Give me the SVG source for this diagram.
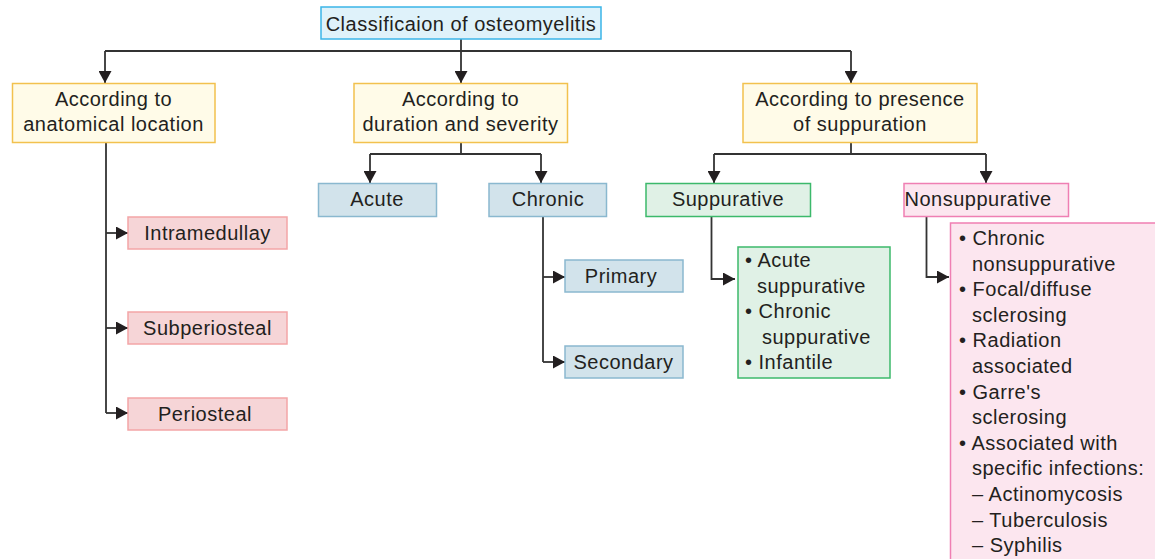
<svg xmlns="http://www.w3.org/2000/svg" width="1155" height="559" viewBox="0 0 1155 559">
<defs>
<marker id="ah" markerUnits="userSpaceOnUse" markerWidth="13" markerHeight="13" refX="12" refY="6.5" orient="auto">
<path d="M0,0 L12,6.5 L0,13 Z" fill="#231f20"/>
</marker>
<style>
text{font-family:"Liberation Sans",Arial,sans-serif;font-size:20px;fill:#231f20;letter-spacing:0.5px}
.c{text-anchor:middle}
.con{fill:none;stroke:#333;stroke-width:1.8}
.arr{fill:none;stroke:#333;stroke-width:1.8;marker-end:url(#ah)}
.title{fill:#dff2fa;stroke:#3bb5e8;stroke-width:1.5}
.yel{fill:#fffbe8;stroke:#f2c14e;stroke-width:1.5}
.blu{fill:#d2e3eb;stroke:#8ab8cf;stroke-width:1.5}
.red{fill:#f6d5d7;stroke:#f3a5a7;stroke-width:1.5}
.grn{fill:#e0f1e6;stroke:#3cb96b;stroke-width:1.5}
.pnk{fill:#fce6ef;stroke:#ef7fb3;stroke-width:1.5}
</style>
</defs>
<rect width="1155" height="559" fill="#fff"/>
<g id="connectors">
<path class="con" d="M461,39 V51 M105,51 H851"/>
<path class="arr" d="M105,51 V83"/>
<path class="arr" d="M461,51 V83"/>
<path class="arr" d="M851,51 V83"/>
<path class="con" d="M106,142 V413"/>
<path class="arr" d="M106,233 H128"/>
<path class="arr" d="M106,328 H128"/>
<path class="arr" d="M106,413 H128"/>
<path class="con" d="M461,142 V154 M370,154 H541"/>
<path class="arr" d="M370,154 V183"/>
<path class="arr" d="M541,154 V183"/>
<path class="con" d="M543,216 V362"/>
<path class="arr" d="M543,277 H565"/>
<path class="arr" d="M543,362 H565"/>
<path class="con" d="M851,142 V154 M714,154 H986"/>
<path class="arr" d="M714,154 V183"/>
<path class="arr" d="M986,154 V183"/>
<path class="arr" d="M711.5,216 V279 H735"/>
<path class="arr" d="M926.5,216 V277 H949"/>
</g>
<g id="n-title"><rect class="title" x="321" y="7" width="280" height="32"/><text class="c" x="461" y="30.5">Classificaion of osteomyelitis</text></g>
<g id="n-anat"><rect class="yel" x="12.5" y="83.5" width="202.5" height="59"/><text class="c" x="113.5" y="105.5">According to</text><text class="c" x="113.5" y="130.5">anatomical location</text></g>
<g id="n-dur"><rect class="yel" x="354" y="83.5" width="213.5" height="59"/><text class="c" x="460.5" y="105.5">According to</text><text class="c" x="460.5" y="130.5">duration and severity</text></g>
<g id="n-supp"><rect class="yel" x="743" y="83.5" width="234" height="59"/><text class="c" x="860" y="105.5">According to presence</text><text class="c" x="860" y="130.5">of suppuration</text></g>
<g id="n-intra"><rect class="red" x="128" y="217" width="159" height="32"/><text class="c" x="207.5" y="239.5">Intramedullay</text></g>
<g id="n-subp"><rect class="red" x="128" y="312" width="159" height="32"/><text class="c" x="207.5" y="334.5">Subperiosteal</text></g>
<g id="n-peri"><rect class="red" x="128" y="398" width="159" height="32"/><text class="c" x="205" y="420.5">Periosteal</text></g>
<g id="n-acute"><rect class="blu" x="318.5" y="183.5" width="118" height="33"/><text class="c" x="377" y="206">Acute</text></g>
<g id="n-chronic"><rect class="blu" x="489" y="183.5" width="117.5" height="33"/><text class="c" x="548" y="206">Chronic</text></g>
<g id="n-primary"><rect class="blu" x="565" y="260" width="118" height="32"/><text class="c" x="621" y="283">Primary</text></g>
<g id="n-secondary"><rect class="blu" x="565" y="346" width="118" height="32"/><text class="c" x="623.5" y="369">Secondary</text></g>
<g id="n-suppurative"><rect class="grn" x="646" y="183.5" width="164.5" height="33"/><text class="c" x="728" y="206">Suppurative</text></g>
<g id="n-nonsupp"><rect class="pnk" x="904" y="183.5" width="164.5" height="33"/><text class="c" x="978" y="206">Nonsuppurative</text></g>
<g id="n-supplist"><rect class="grn" x="738" y="247" width="152" height="131"/>
<text x="745" y="267">• Acute</text><text x="757" y="292.5">suppurative</text><text x="745" y="318">• Chronic</text><text x="762" y="343.5">suppurative</text><text x="745" y="369">• Infantile</text></g>
<g id="n-nonlist"><rect class="pnk" x="950.5" y="223" width="220" height="350"/>
<text x="959" y="245">• Chronic</text><text x="972" y="270.6">nonsuppurative</text><text x="959" y="296.2">• Focal/diffuse</text><text x="972" y="321.8">sclerosing</text><text x="959" y="347.4">• Radiation</text><text x="972" y="373">associated</text><text x="959" y="398.6">• Garre's</text><text x="972" y="424.2">sclerosing</text><text x="959" y="449.8">• Associated with</text><text x="972" y="475.4">specific infections:</text><text x="972" y="501">– Actinomycosis</text><text x="972" y="526.6">– Tuberculosis</text><text x="972" y="552.2">– Syphilis</text></g>
</svg>
